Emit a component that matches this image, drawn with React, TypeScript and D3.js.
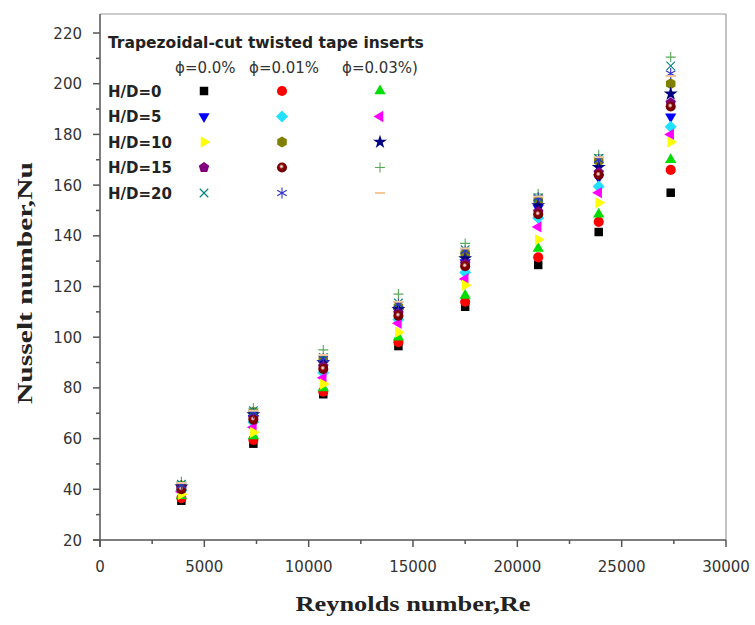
import React from "react";
import * as d3 from "d3";

const W = 755;
const H = 625;
const margin = {left: 100, right: 29, top: 14, bottom: 85};

// Reynolds number of each measuring point
const reynolds = [3900, 7350, 10700, 14300, 17500, 21000, 23900, 27350];

// Nusselt number, one array per series (H/D, phi)
const hd0_p0 = [35.5, 58, 77.5, 96.5, 112, 128.5, 141.5, 157];
const hd0_p1 = [36.5, 59.5, 78.5, 98, 114, 131.5, 145.5, 166];
const hd0_p3 = [37.5, 61, 80, 100, 116.5, 135, 148.5, 170];
const hd5_p0 = [40.5, 68, 89.5, 110, 129.5, 151, 163, 187];
const hd5_p1 = [39.5, 66.5, 86, 107, 125.5, 147, 159.5, 183];
const hd5_p3 = [39, 64.5, 84, 105.5, 123, 143.5, 157, 180];
const hd10_p0 = [38, 62.5, 81.5, 102, 120.5, 138.5, 153, 177];
const hd10_p1 = [41.5, 70.5, 91, 112, 133, 154, 169.5, 200];
const hd10_p3 = [41, 69.5, 90, 111, 131, 152, 167, 196];
const hd15_p0 = [40.5, 68, 88.5, 109.5, 129, 149.5, 165, 192.5];
const hd15_p1 = [40, 67.5, 87.5, 108.5, 128, 148.5, 164, 191];
const hd15_p3 = [43, 72, 95, 117, 137, 156.5, 172, 210.5];
const hd20_p0 = [42, 71, 92, 113.5, 134.5, 155, 170.5, 207];
const hd20_p1 = [41.5, 70, 91.5, 113, 134, 155, 170, 204];
const hd20_p3 = [42.5, 71, 93, 114, 135, 155.5, 171, 203];

const rowLabels = ["H/D=0", "H/D=5", "H/D=10", "H/D=15", "H/D=20"];
const phiLabels = ["\u03d5=0.0%", "\u03d5=0.01%", "\u03d5=0.03%)"];

const xTicks = [0, 5000, 10000, 15000, 20000, 25000, 30000];
const yTicks = [20, 40, 60, 80, 100, 120, 140, 160, 180, 200, 220];

type Marker =
  | "square" | "circle" | "triUp" | "triDown" | "diamond" | "triLeft"
  | "triRight" | "hexagon" | "star" | "pentagon" | "sphere" | "plus"
  | "times" | "asterisk" | "dash";

const series: {values: number[]; marker: Marker; color: string; row: number; col: number}[] = [
  {values: hd0_p0, marker: "square", color: "#000000", row: 0, col: 0},
  {values: hd0_p1, marker: "circle", color: "#ff0000", row: 0, col: 1},
  {values: hd0_p3, marker: "triUp", color: "#00dd00", row: 0, col: 2},
  {values: hd5_p0, marker: "triDown", color: "#0000ff", row: 1, col: 0},
  {values: hd5_p1, marker: "diamond", color: "#22e0ff", row: 1, col: 1},
  {values: hd5_p3, marker: "triLeft", color: "#ff00ff", row: 1, col: 2},
  {values: hd10_p0, marker: "triRight", color: "#ffff00", row: 2, col: 0},
  {values: hd10_p1, marker: "hexagon", color: "#808000", row: 2, col: 1},
  {values: hd10_p3, marker: "star", color: "#000080", row: 2, col: 2},
  {values: hd15_p0, marker: "pentagon", color: "#800080", row: 3, col: 0},
  {values: hd15_p1, marker: "sphere", color: "#800000", row: 3, col: 1},
  {values: hd15_p3, marker: "plus", color: "#55aa55", row: 3, col: 2},
  {values: hd20_p0, marker: "times", color: "#008080", row: 4, col: 0},
  {values: hd20_p1, marker: "asterisk", color: "#3333cc", row: 4, col: 1},
  {values: hd20_p3, marker: "dash", color: "#f5c89a", row: 4, col: 2},
];

const polygon = (n: number, r: number, rot: number) =>
  d3.range(n).map((i) => {
    const a = rot + (i * 2 * Math.PI) / n;
    return [r * Math.cos(a), r * Math.sin(a)] as [number, number];
  });

const polyPath = (pts: [number, number][]) => "M" + pts.map((p) => p.join(",")).join("L") + "Z";

// thin-line markers: spokes through the centre
const spokes = (n: number, r: number, rot: number) =>
  d3.range(n).map((i) => {
    const a = rot + (i * Math.PI) / n;
    const dx = r * Math.cos(a), dy = r * Math.sin(a);
    return `M${-dx},${-dy}L${dx},${dy}`;
  }).join("");

const markerPath = (m: Marker): string => {
  switch (m) {
    case "square": return d3.symbol(d3.symbolSquare, 72)()!;
    case "circle": return d3.symbol(d3.symbolCircle, 80)()!;
    case "sphere": return d3.symbol(d3.symbolCircle, 80)()!;
    case "triUp": return polyPath(polygon(3, 6.5, -Math.PI / 2));
    case "triDown": return polyPath(polygon(3, 6.5, Math.PI / 2));
    case "triLeft": return polyPath(polygon(3, 6.5, Math.PI));
    case "triRight": return polyPath(polygon(3, 6.5, 0));
    case "diamond": return polyPath(polygon(4, 6, 0));
    case "hexagon": return polyPath(polygon(6, 5.5, -Math.PI / 2));
    case "pentagon": return polyPath(polygon(5, 5.5, -Math.PI / 2));
    case "star": return d3.symbol(d3.symbolStar, 60)()!;
    case "plus": return spokes(2, 5, 0);
    case "times": return spokes(2, 6, Math.PI / 4);
    case "asterisk": return spokes(3, 5.5, Math.PI / 2);
    case "dash": return "M-5,0L5,0";
  }
};

const strokeOnly = (m: Marker) => m === "plus" || m === "times" || m === "asterisk" || m === "dash";

const MarkerShape = ({m, color, x, y}: {m: Marker; color: string; x: number; y: number}) => {
  const d = markerPath(m);
  if (strokeOnly(m)) {
    return <path d={d} transform={`translate(${x},${y})`} fill="none" stroke={color} strokeWidth={m === "dash" ? 2 : 1.1} />;
  }
  return (
    <path
      d={d}
      transform={`translate(${x},${y})`}
      fill={m === "sphere" ? "url(#sphereGrad)" : color}
      stroke="none"
    />
  );
};

export default function App() {
  const x = d3.scaleLinear().domain([0, 30000]).range([margin.left, W - margin.right]);
  const y = d3.scaleLinear().domain([20, 227.5]).range([H - margin.bottom, margin.top]);
  const x0 = margin.left;
  const x1 = W - margin.right;
  const y0 = H - margin.bottom;
  const y1 = margin.top;

  const xMinor = d3.range(2500, 30000, 5000);
  const yMinor = d3.range(30, 227, 20);

  const axisColor = "#555";
  const sans = "DejaVu Sans, Verdana, sans-serif";
  const serif = "Liberation Serif, Times New Roman, serif";

  const legX = 108;
  const colX = [204, 282, 380];
  const rowY = (i: number) => 91 + i * 25.5;

  return (
    <svg width={W} height={H} style={{position: "absolute", left: 0, top: 0, background: "#fff"}}>
      <defs>
        <radialGradient id="sphereGrad" cx="45%" cy="40%" r="60%">
          <stop offset="0%" stopColor="#ffffff" />
          <stop offset="18%" stopColor="#e0a0a0" />
          <stop offset="40%" stopColor="#800000" />
          <stop offset="100%" stopColor="#700000" />
        </radialGradient>
      </defs>

      {/* frame */}
      <line x1={x0} x2={x1} y1={y1} y2={y1} stroke="#999" strokeWidth={1.2} />
      <line x1={x1} x2={x1} y1={y1} y2={y0} stroke="#999" strokeWidth={1.2} />

      {/* y axis */}
      <line x1={x0} x2={x0} y1={y1} y2={y0 + 7} stroke={axisColor} strokeWidth={1.5} />
      {yTicks.map((t) => (
        <g key={"y" + t}>
          <line x1={x0 - 7} x2={x0} y1={y(t)} y2={y(t)} stroke={axisColor} strokeWidth={1.5} />
          <text x={x0 - 18} y={y(t) + 5.5} textAnchor="end" fontSize={15} fill="#333" fontFamily={sans}>
            {t}
          </text>
        </g>
      ))}
      {yMinor.map((t) => (
        <line key={"ym" + t} x1={x0 - 4} x2={x0} y1={y(t)} y2={y(t)} stroke={axisColor} strokeWidth={1.5} />
      ))}

      {/* x axis */}
      <line x1={x0 - 7} x2={x1} y1={y0} y2={y0} stroke={axisColor} strokeWidth={1.5} />
      {xTicks.map((t) => (
        <g key={"x" + t}>
          <line x1={x(t)} x2={x(t)} y1={y0} y2={y0 + 7} stroke={axisColor} strokeWidth={1.5} />
          <text x={x(t)} y={y0 + 32} textAnchor="middle" fontSize={15} fill="#333" fontFamily={sans}>
            {t}
          </text>
        </g>
      ))}
      {xMinor.map((t) => (
        <line key={"xm" + t} x1={x(t)} x2={x(t)} y1={y0} y2={y0 + 4} stroke={axisColor} strokeWidth={1.5} />
      ))}

      {/* axis titles */}
      <text
        x={(x0 + x1) / 2}
        y={611}
        textAnchor="middle"
        fontSize={22}
        fontWeight="bold"
        fontFamily={serif}
        fill="#222"
        textLength={235}
        lengthAdjust="spacingAndGlyphs"
      >
        Reynolds number,Re
      </text>
      <text
        transform={`translate(32,283) rotate(-90)`}
        textAnchor="middle"
        fontSize={22}
        fontWeight="bold"
        fontFamily={serif}
        fill="#222"
        textLength={242}
        lengthAdjust="spacingAndGlyphs"
      >
        Nusselt number,Nu
      </text>

      {/* data */}
      {series.map((s, si) => (
        <g key={"s" + si}>
          {s.values.map((v, i) => (
            <MarkerShape key={i} m={s.marker} color={s.color} x={x(reynolds[i])} y={y(v)} />
          ))}
        </g>
      ))}

      {/* legend */}
      <text x={legX} y={48} fontSize={15.5} fontWeight="bold" fontFamily={sans} fill="#222">
        Trapezoidal-cut twisted tape inserts
      </text>
      {phiLabels.map((p, i) => (
        <text key={p} x={[175, 249, 342][i]} y={72.5} fontSize={15} fontFamily={sans} fill="#333">
          {p}
        </text>
      ))}
      {rowLabels.map((r, i) => (
        <text key={r} x={legX} y={rowY(i) + 5.5} fontSize={15} fontWeight="bold" fontFamily={sans} fill="#222">
          {r}
        </text>
      ))}
      {series.map((s, si) => (
        <MarkerShape key={"l" + si} m={s.marker} color={s.color} x={colX[s.col]} y={rowY(s.row)} />
      ))}
    </svg>
  );
}
